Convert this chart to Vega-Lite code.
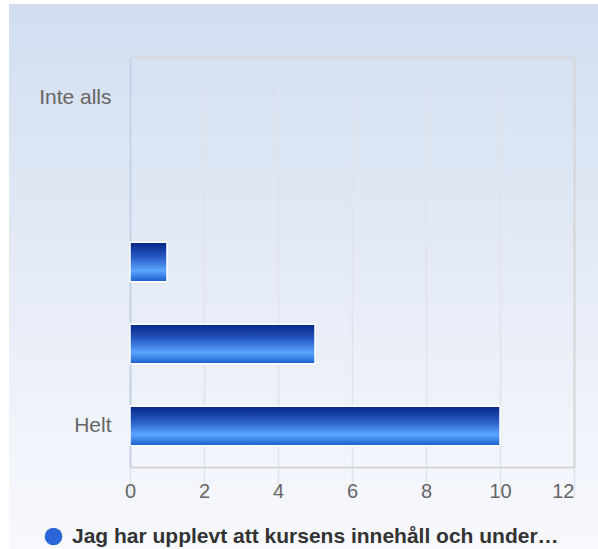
{
  "$schema": "https://vega.github.io/schema/vega-lite/v6.json",
  "width": 589,
  "height": 545,
  "autosize": "none",
  "padding": {"left": 9, "top": 4, "right": 0, "bottom": 0},
  "background": "white",
  "config": {
    "view": {
      "stroke": null,
      "fill": {"gradient": "linear", "x1": 0, "y1": 0, "x2": 0, "y2": 1,
        "stops": [{"offset": 0, "color": "#d2def0"}, {"offset": 1, "color": "#f8f9fd"}]}
    },
    "font": "Liberation Sans"
  },
  "data": {
    "values": [
      {"cat": "Inte alls", "value": 0, "series": "Jag har upplevt att kursens innehåll och under…"},
      {"cat": "2", "value": 0, "series": "Jag har upplevt att kursens innehåll och under…"},
      {"cat": "3", "value": 1, "series": "Jag har upplevt att kursens innehåll och under…"},
      {"cat": "4", "value": 5, "series": "Jag har upplevt att kursens innehåll och under…"},
      {"cat": "Helt", "value": 10, "series": "Jag har upplevt att kursens innehåll och under…"}
    ]
  },
  "resolve": {"axis": {"x": "independent", "y": "independent"}},
  "layer": [
    {
      "mark": {"type": "bar", "strokeWidth": 1.5,
        "fill": {"gradient": "linear", "x1": 0, "y1": 0, "x2": 0, "y2": 1,
            "stops": [{"offset": 0, "color": "#062785"}, {"offset": 0.35, "color": "#2455c0"},
              {"offset": 0.72, "color": "#5aa6ff"}, {"offset": 1, "color": "#1a5ccc"}]}},
      "encoding": {
        "x": {"field": "value", "type": "quantitative",
          "scale": {"domain": [0, 12], "range": [121, 565], "nice": false, "zero": true},
          "axis": {"orient": "bottom", "offset": -82, "title": null, "values": [0, 2, 4, 6, 8, 10, 12],
            "grid": true, "gridColor": "#dfe3ea", "gridWidth": 1.5,
            "domain": true, "domainColor": "#d6d6d6", "domainWidth": 2,
            "ticks": false, "labelFontSize": 20, "labelColor": "#666666", "labelPadding": 14,
            "labelAlign": {"condition": {"test": "datum.value == 12", "value": "right"}, "value": "center"}}},
        "y": {"field": "cat", "type": "nominal", "sort": ["Inte alls", "2", "3", "4", "Helt"],
          "scale": {"range": [53, 463], "paddingInner": 0.52, "paddingOuter": 0.26},
          "axis": {"orient": "left", "offset": -121, "title": null, "ticks": false, "grid": false,
            "domain": true, "domainColor": "#c6d2e6", "domainWidth": 2,
            "labelFontSize": 21, "labelColor": "#666666", "labelPadding": 19, "labelDy": 2,
            "labelExpr": "datum.label == 'Inte alls' || datum.label == 'Helt' ? datum.label : ''"}},
        "stroke": {"condition": {"test": "datum.value > 0", "value": "white"}, "value": null}
      }
    },
    {
      "mark": {"type": "bar", "opacity": 0},
      "encoding": {
        "x": {"field": "value", "type": "quantitative",
          "axis": {"orient": "top", "offset": -53, "title": null, "labels": false, "ticks": false, "grid": false,
            "domain": true, "domainColor": "#d6d6d6", "domainWidth": 1.5}},
        "y": {"field": "cat", "type": "nominal", "sort": ["Inte alls", "2", "3", "4", "Helt"],
          "axis": {"orient": "right", "offset": -24, "title": null, "labels": false, "ticks": false, "grid": false,
            "domain": true, "domainColor": "#d6d6d6", "domainWidth": 2}},
        "color": {"field": "series", "type": "nominal",
          "scale": {"range": ["#2a66d8"]},
          "legend": {"orient": "none", "legendX": 34, "legendY": 522, "title": null, "padding": 0,
            "symbolType": "circle", "symbolSize": 310, "symbolStrokeWidth": 0, "symbolOpacity": 1, "labelOffset": 8,
            "labelFontSize": 21, "labelFontWeight": "bold", "labelColor": "#333333", "labelLimit": 700}}
      }
    }
  ]
}
